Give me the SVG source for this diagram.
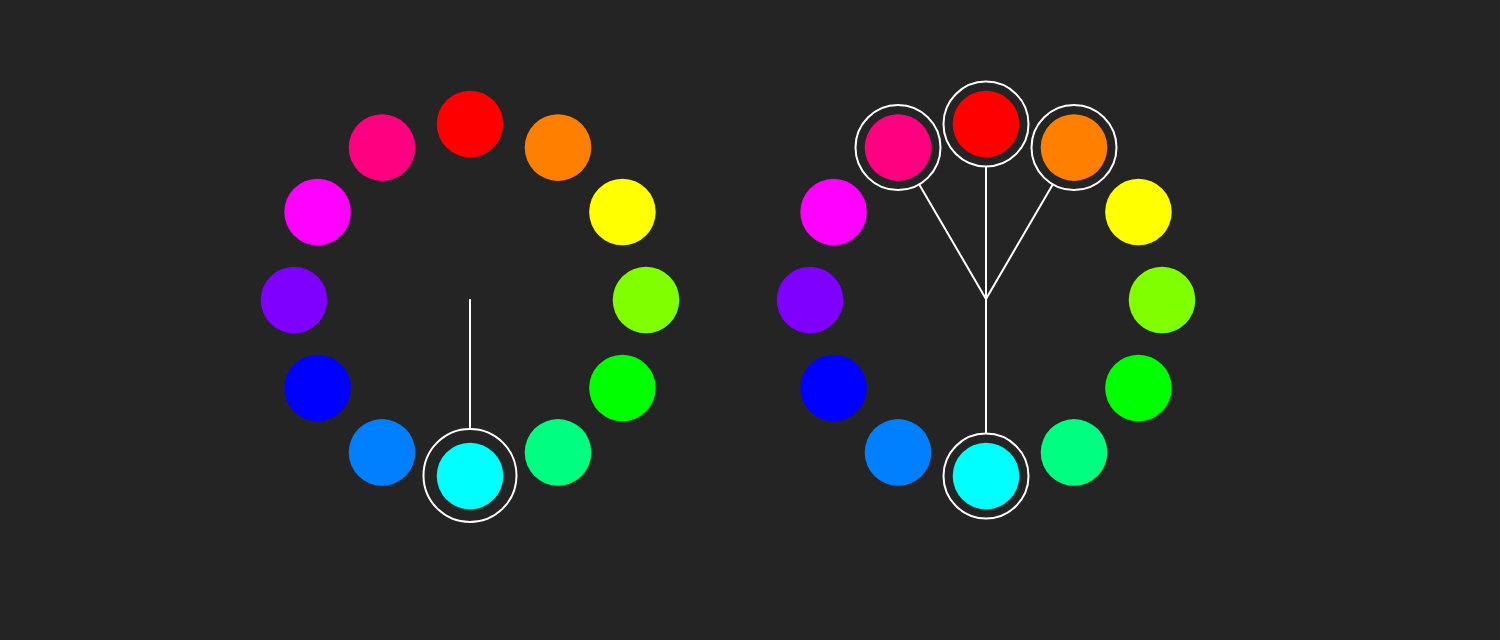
<svg xmlns="http://www.w3.org/2000/svg" width="1500" height="640" viewBox="0 0 1500 640">
<style>
.dot{stroke:none}
.ring{fill:none;stroke:#ffffff;stroke-width:2}
.link{stroke:#ffffff;stroke-width:2;fill:none}
</style>
<rect width="1500" height="640" fill="#242424"/>
<g id="wheel-left">
<g id="l-red"><circle class="dot" cx="470" cy="124" r="33.3" fill="#ff0000"/></g>
<g id="l-orange"><circle class="dot" cx="558" cy="147.58" r="33.3" fill="#ff8000"/></g>
<g id="l-yellow"><circle class="dot" cx="622.42" cy="212" r="33.3" fill="#ffff00"/></g>
<g id="l-chartreuse"><circle class="dot" cx="646" cy="300" r="33.3" fill="#80ff00"/></g>
<g id="l-green"><circle class="dot" cx="622.42" cy="388" r="33.3" fill="#00ff00"/></g>
<g id="l-spring"><circle class="dot" cx="558" cy="452.42" r="33.3" fill="#00ff80"/></g>
<g id="l-cyan"><circle class="dot" cx="470" cy="476" r="33.3" fill="#00ffff"/><circle class="ring" cx="470" cy="475.5" r="46.5"/></g>
<g id="l-azure"><circle class="dot" cx="382" cy="452.42" r="33.3" fill="#0080ff"/></g>
<g id="l-blue"><circle class="dot" cx="317.58" cy="388" r="33.3" fill="#0000ff"/></g>
<g id="l-violet"><circle class="dot" cx="294" cy="300" r="33.3" fill="#8000ff"/></g>
<g id="l-magenta"><circle class="dot" cx="317.58" cy="212" r="33.3" fill="#ff00ff"/></g>
<g id="l-rose"><circle class="dot" cx="382" cy="147.58" r="33.3" fill="#ff0080"/></g>
</g>
<g id="wheel-right">
<g id="r-red"><circle class="dot" cx="986" cy="124" r="33.3" fill="#ff0000"/><circle class="ring" cx="986" cy="124" r="42.5"/></g>
<g id="r-orange"><circle class="dot" cx="1074" cy="147.58" r="33.3" fill="#ff8000"/><circle class="ring" cx="1074" cy="147.58" r="42.5"/></g>
<g id="r-yellow"><circle class="dot" cx="1138.42" cy="212" r="33.3" fill="#ffff00"/></g>
<g id="r-chartreuse"><circle class="dot" cx="1162" cy="300" r="33.3" fill="#80ff00"/></g>
<g id="r-green"><circle class="dot" cx="1138.42" cy="388" r="33.3" fill="#00ff00"/></g>
<g id="r-spring"><circle class="dot" cx="1074" cy="452.42" r="33.3" fill="#00ff80"/></g>
<g id="r-cyan"><circle class="dot" cx="986" cy="476" r="33.3" fill="#00ffff"/><circle class="ring" cx="986" cy="476" r="42.5"/></g>
<g id="r-azure"><circle class="dot" cx="898" cy="452.42" r="33.3" fill="#0080ff"/></g>
<g id="r-blue"><circle class="dot" cx="833.58" cy="388" r="33.3" fill="#0000ff"/></g>
<g id="r-violet"><circle class="dot" cx="810" cy="300" r="33.3" fill="#8000ff"/></g>
<g id="r-magenta"><circle class="dot" cx="833.58" cy="212" r="33.3" fill="#ff00ff"/></g>
<g id="r-rose"><circle class="dot" cx="898" cy="147.58" r="33.3" fill="#ff0080"/><circle class="ring" cx="898" cy="147.58" r="42.5"/></g>
</g>
<g id="connectors">
<line class="link" x1="470" y1="299" x2="470" y2="429"/>
<line class="link" x1="986" y1="299" x2="986" y2="166.5"/>
<line class="link" x1="986" y1="299" x2="919.25" y2="184.4"/>
<line class="link" x1="986" y1="299" x2="1052.75" y2="184.4"/>
<line class="link" x1="986" y1="299" x2="986" y2="433.5"/>
</g>
</svg>
